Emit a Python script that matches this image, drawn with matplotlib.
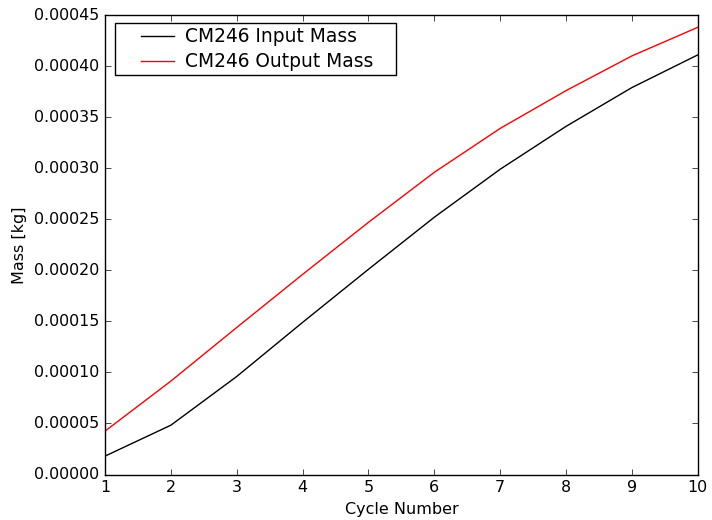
import matplotlib
matplotlib.use("Agg")
import numpy as np
import matplotlib.pyplot as plt
from matplotlib.legend_handler import HandlerLine2D

plt.style.use('classic')
plt.rcParams['font.family'] = ['DejaVu Sans']

cycles = [1, 2, 3, 4, 5, 6, 7, 8, 9, 10]
input_mass = [0.0000180, 0.0000483, 0.0000960, 0.000149, 0.000201, 0.000252, 0.000299, 0.000341, 0.000379, 0.000411]
output_mass = [0.0000425, 0.0000915, 0.000144, 0.000196, 0.000247, 0.000296, 0.000339, 0.000376, 0.000410, 0.000438]


class ShortLineHandler(HandlerLine2D):
    def get_xdata(self, legend, xdescent, ydescent, width, height, fontsize):
        xd, xm = super().get_xdata(legend, xdescent, ydescent, width, height, fontsize)
        lo = -xdescent + 0.40 * width
        hi = -xdescent + width
        return np.array([lo, hi]), np.array([lo, hi])


fig = plt.figure(figsize=(7.12, 5.2), dpi=100, facecolor='white')
ax = fig.add_axes([0.1475, 0.0875, 0.8325, 0.8835])
l1, = ax.plot(cycles, input_mass, color='black', lw=1.0, label='CM246 Input Mass')
l2, = ax.plot(cycles, output_mass, color='red', lw=1.0, label='CM246 Output Mass')
ax.set_xlim(1, 10)
ax.set_ylim(0, 0.00045)
ax.set_yticks([i * 0.00005 for i in range(10)])
ax.set_yticklabels(['%.5f' % (i * 0.00005) for i in range(10)])
ax.tick_params(labelsize=11.4)
ax.set_xlabel('Cycle Number', fontsize=11.5)
ax.set_ylabel('Mass [kg]', fontsize=11.5)
leg = ax.legend(loc='upper left', fontsize=13.4,
                bbox_to_anchor=(0.0169, 0.8694, 0.474, 0.1132), mode='expand',
                borderaxespad=0.0, borderpad=0.22, handletextpad=0.6,
                handlelength=2.93, labelspacing=0.32,
                handler_map={l1: ShortLineHandler(), l2: ShortLineHandler()})
fig.savefig('out.png', dpi=100, facecolor='white')
